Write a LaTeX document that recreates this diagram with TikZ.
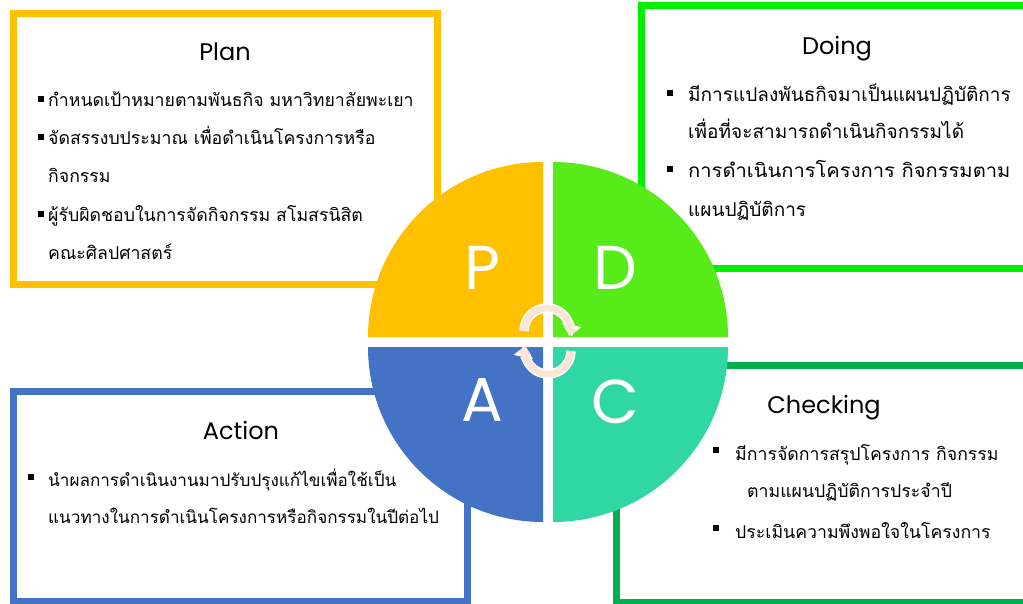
\documentclass[tikz,border=0pt]{standalone}
\usepackage{fontspec}
\usepackage{graphicx}
\setmainfont{Poppins}
\newfontfamily\thai[Script=Thai]{Loma}
\usetikzlibrary{arrows.meta}
\definecolor{plancol}{HTML}{FFC000}
\definecolor{doingcol}{HTML}{00F000}
\definecolor{actcol}{HTML}{4472C4}
\definecolor{checkcol}{HTML}{00B050}
\definecolor{qp}{HTML}{FFC000}
\definecolor{qd}{HTML}{57EB1A}
\definecolor{qa}{HTML}{4472C4}
\definecolor{qc}{HTML}{30D6A3}
\definecolor{peach}{HTML}{FBE5D6}
\tikzset{
  thaitext/.style={anchor=base west, inner sep=0pt, font=\thai\fontsize{17.7}{18}\selectfont},
  thaibig/.style={thaitext, font=\thai\fontsize{19}{19}\selectfont},
  thaismall/.style={thaitext, font=\thai\fontsize{17.1}{18}\selectfont},
  titletext/.style={anchor=base, inner sep=0pt, font=\fontsize{24}{24}\selectfont},
  bul/.style={fill=black, minimum size=6pt, inner sep=0pt},
  letter/.style={text=white, inner sep=0pt, font=\fontsize{62}{62}\selectfont},
  boxline/.style={line width=7pt},
}
\begin{document}
\begin{tikzpicture}[x=1pt,y=-1pt]
\clip (0,0) rectangle (1023,604);
\fill[white] (0,0) rectangle (1023,604);
% boxes
\draw[boxline, plancol] (13.5,13.5) rectangle (437.5,284.5);
\draw[boxline, doingcol] (641,6) rectangle (1040,268.5);
\draw[boxline, actcol] (13.5,391.5) rectangle (467,601);
\draw[boxline, checkcol] (616,365) rectangle (1040,602);
% quadrants
\fill[qp] (543,337) -- (368,337) arc[start angle=180,end angle=90,radius=175pt] -- cycle;
\fill[qd] (553,337) -- (553,162) arc[start angle=90,end angle=0,radius=175pt] -- cycle;
\fill[qc] (553,347) -- (728,347) arc[start angle=0,end angle=-90,radius=175pt] -- cycle;
\fill[qa] (543,347) -- (543,522) arc[start angle=270,end angle=180,radius=175pt] -- cycle;
% letters
\node[letter] (P) at (482,268) {P};
\node[letter] (D) at (615,268) {D};
\node[letter] (A) at (482,400) {A};
\node[letter] (C) at (615,402) {C};
% cycle arrows
\coordinate (u0) at (524,331);
\coordinate (l0) at (571,351);
\draw[white, line width=9.5pt, -{Triangle[length=11pt,width=19pt]}] (u0) arc[start angle=180,end angle=-12,radius=23pt];
\draw[peach, line width=6.5pt, -{Triangle[length=8pt,width=15pt]}] (u0) arc[start angle=180,end angle=-12,radius=23pt];
\draw[white, line width=9.5pt, -{Triangle[length=11pt,width=19pt]}] (l0) arc[start angle=0,end angle=-192,radius=23pt];
\draw[peach, line width=6.5pt, -{Triangle[length=8pt,width=15pt]}] (l0) arc[start angle=0,end angle=-192,radius=23pt];
% Plan
\node[titletext] (ptitle) at (225,61) {Plan};
\node[bul] (pb1) at (40.5,99) {};
\node[bul] (pb2) at (40.5,137) {};
\node[bul] (pb3) at (40.5,214) {};
\node[thaitext] (p1) at (48,107) {กำหนดเป้าหมายตามพันธกิจ มหาวิทยาลัยพะเยา};
\node[thaitext] (p2) at (48,145) {จัดสรรงบประมาณ เพื่อดำเนินโครงการหรือ};
\node[thaitext] (p3) at (48,183) {กิจกรรม};
\node[thaitext] (p4) at (48,222) {ผู้รับผิดชอบในการจัดกิจกรรม สโมสรนิสิต};
\node[thaitext] (p5) at (48,260) {คณะศิลปศาสตร์};
% Doing
\node[titletext] (dtitle) at (837,55) {Doing};
\node[bul] (db1) at (669.5,93) {};
\node[bul] (db2) at (669.5,169) {};
\node[thaibig] (d1) at (688,102) {มีการแปลงพันธกิจมาเป็นแผนปฏิบัติการ};
\node[thaibig] (d2) at (688,139) {เพื่อที่จะสามารถดำเนินกิจกรรมได้};
\node[thaibig] (d3) at (688,178) {\scalebox{1.06}[1]{การดำเนินการโครงการ กิจกรรมตาม}};
\node[thaibig] (d4) at (688,217) {แผนปฏิบัติการ};
% Action
\node[titletext] (atitle) at (241,439) {Action};
\node[bul] (ab1) at (30.5,477) {};
\node[thaismall] (a1) at (48,486) {นำผลการดำเนินงานมาปรับปรุงแก้ไขเพื่อใช้เป็น};
\node[thaismall] (a2) at (48,523) {แนวทางในการดำเนินโครงการหรือกิจกรรมในปีต่อไป};
% Checking
\node[titletext] (ctitle) at (824,413) {Checking};
\node[bul] (cb1) at (715.5,450) {};
\node[bul] (cb2) at (715.5,528) {};
\node[thaitext] (c1) at (735,460) {มีการจัดการสรุปโครงการ กิจกรรม};
\node[thaitext] (c2) at (747,497) {ตามแผนปฏิบัติการประจำปี};
\node[thaitext] (c3) at (735,538) {ประเมินความพึงพอใจในโครงการ};
\end{tikzpicture}
\end{document}
